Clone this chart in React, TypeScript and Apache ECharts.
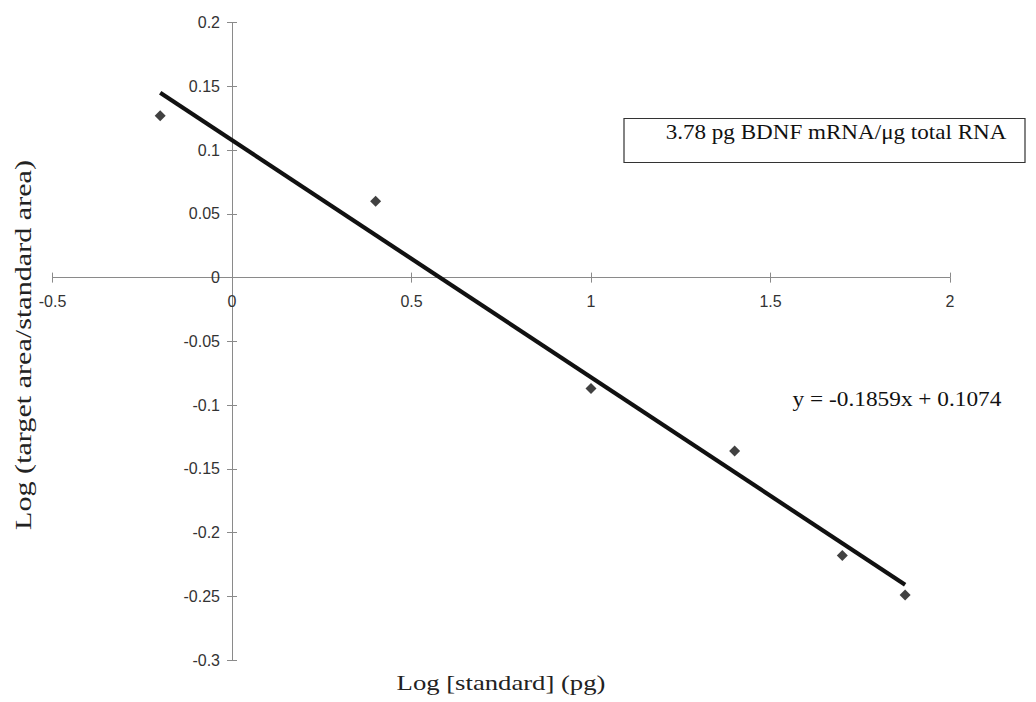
import React, { useEffect, useRef } from "react";
import * as echarts from "echarts";

const xValues = [-0.2, 0.4, 1.0, 1.4, 1.7, 1.875];
const yValues = [0.127, 0.06, -0.087, -0.136, -0.218, -0.249];
const trendX = [-0.2, 1.875];
const trendY = [0.145, -0.241];
const xTitle = "Log [standard] (pg)";
const yTitle = "Log (target area/standard area)";
const equationText = "y = -0.1859x + 0.1074";
const boxText = "3.78 pg BDNF mRNA/\u03bcg total RNA";

const SERIF = "'Liberation Serif', 'Times New Roman', serif";
const SANS = "'Liberation Sans', Arial, sans-serif";

const GRID_LEFT = 52.5;
const GRID_RIGHT = 86;
const GRID_TOP = 22.7;
const GRID_BOTTOM = 42;
const W = 1036;
const H = 702;
const X_MIN = -0.5;
const X_MAX = 2;
const Y_MIN = -0.3;
const Y_MAX = 0.2;

export default function App() {
  const ref = useRef<HTMLDivElement>(null);
  useEffect(() => {
    if (!ref.current) return;
    const chart = echarts.init(ref.current, undefined, { renderer: "svg" });
    const gw = W - GRID_LEFT - GRID_RIGHT;
    const gh = H - GRID_TOP - GRID_BOTTOM;
    // offsets so the axes cross at zero
    const xAxisOffset = -((0 - Y_MIN) / (Y_MAX - Y_MIN)) * gh;
    const yAxisOffset = -((0 - X_MIN) / (X_MAX - X_MIN)) * gw;
    const axisColor = "#8a8a8a";
    chart.setOption({
      animation: false,
      backgroundColor: "#ffffff",
      grid: { left: GRID_LEFT, right: GRID_RIGHT, top: GRID_TOP, bottom: GRID_BOTTOM, containLabel: false },
      xAxis: [
        {
          type: "value",
          min: X_MIN,
          max: X_MAX,
          interval: 0.5,
          position: "bottom",
          offset: xAxisOffset,
          splitLine: { show: false },
          axisLine: { onZero: false, lineStyle: { color: axisColor, width: 1 } },
          axisTick: { show: true, length: 5, lineStyle: { color: axisColor } },
          axisLabel: { color: "#333", fontFamily: SANS, fontSize: 16, margin: 16, showMinLabel: true, showMaxLabel: true },
        },
        {
          type: "value",
          min: X_MIN,
          max: X_MAX,
          interval: 0.5,
          position: "bottom",
          offset: xAxisOffset,
          splitLine: { show: false },
          axisLine: { show: false, onZero: false },
          axisTick: { show: true, inside: true, length: 5, lineStyle: { color: axisColor } },
          axisLabel: { show: false },
        },
      ],
      yAxis: [
        {
          type: "value",
          min: Y_MIN,
          max: Y_MAX,
          interval: 0.05,
          position: "left",
          offset: yAxisOffset,
          splitLine: { show: false },
          axisLine: { show: true, onZero: false, lineStyle: { color: axisColor, width: 1 } },
          axisTick: { show: true, length: 5, lineStyle: { color: axisColor } },
          axisLabel: {
            color: "#333",
            fontFamily: SANS,
            fontSize: 16,
            margin: 12,
            formatter: (v: number) => String(parseFloat(v.toFixed(2))),
          },
        },
        {
          type: "value",
          min: Y_MIN,
          max: Y_MAX,
          interval: 0.05,
          position: "left",
          offset: yAxisOffset,
          splitLine: { show: false },
          axisLine: { show: false, onZero: false },
          axisTick: { show: true, inside: true, length: 5, lineStyle: { color: axisColor } },
          axisLabel: { show: false },
        },
      ],
      series: [
        {
          type: "line",
          data: trendX.map((x, i) => [x, trendY[i]]),
          showSymbol: false,
          symbol: "none",
          lineStyle: { color: "#111", width: 4.2 },
          z: 2,
        },
        {
          type: "scatter",
          data: xValues.map((x, i) => [x, yValues[i]]),
          symbol: "diamond",
          symbolSize: 11,
          itemStyle: { color: "#111" },
          z: 3,
        },
      ],
      graphic: [
        {
          type: "text",
          x: 501,
          y: 683,
          scaleX: 1.27,
          style: { text: xTitle, font: `21px ${SERIF}`, fill: "#222", align: "center", verticalAlign: "middle" },
        },
        {
          type: "text",
          x: 23,
          y: 345,
          rotation: Math.PI / 2,
          scaleX: 1.31,
          style: { text: yTitle, font: `23px ${SERIF}`, fill: "#222", align: "center", verticalAlign: "middle" },
        },
        {
          type: "text",
          x: 897,
          y: 399,
          scaleX: 1.06,
          style: { text: equationText, font: `22px ${SERIF}`, fill: "#111", align: "center", verticalAlign: "middle" },
        },
        {
          type: "rect",
          shape: { x: 624, y: 118.5, width: 401, height: 44 },
          style: { fill: "#ffffff", stroke: "#333", lineWidth: 1.2 },
        },
        {
          type: "text",
          x: 836,
          y: 132,
          scaleX: 1.1,
          style: { text: boxText, font: `21px ${SERIF}`, fill: "#111", align: "center", verticalAlign: "middle" },
          z: 10,
        },
      ],
    });
    return () => chart.dispose();
  }, []);
  return (
    <div
      ref={ref}
      style={{ position: "absolute", left: 0, top: 0, width: W, height: H }}
    />
  );
}
